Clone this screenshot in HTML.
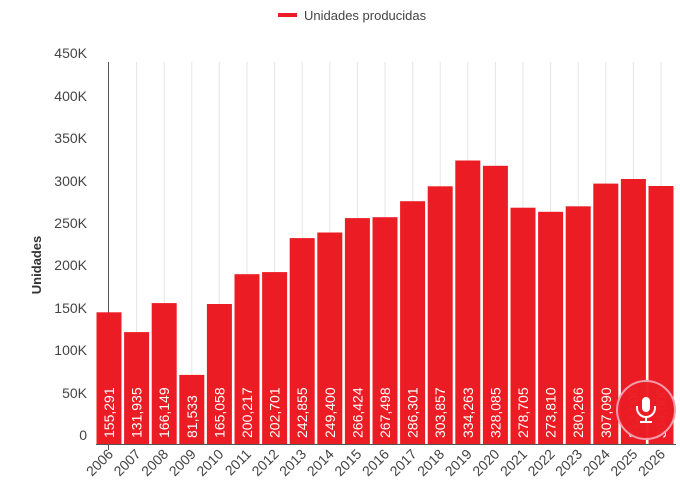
<!DOCTYPE html>
<html><head><meta charset="utf-8"><style>
html,body{margin:0;padding:0;background:#fff;}
svg{display:block;font-family:"Liberation Sans",Roboto,sans-serif;}
.yl{font-size:14px;fill:#444;text-anchor:end;}
.xl{font-size:14px;fill:#444;text-anchor:end;}
.vl{font-size:14px;fill:#fff;}
.g{stroke:#e6e6e6;stroke-width:1;}
.b{fill:#ec1c24;}
</style></head><body>
<svg width="680" height="484" viewBox="0 0 680 484">
<rect x="278" y="13" width="19" height="4" fill="#ec1c24"/>
<text x="304" y="20" font-size="13" fill="#444">Unidades producidas</text>
<text transform="translate(41,265) rotate(-90)" font-size="13" font-weight="bold" fill="#333" text-anchor="middle">Unidades</text>
<g class="yl">
<text x="87" y="440">0</text><text x="87" y="398">50K</text><text x="87" y="355">100K</text><text x="87" y="313">150K</text><text x="87" y="270">200K</text><text x="87" y="228">250K</text><text x="87" y="186">300K</text><text x="87" y="143">350K</text><text x="87" y="101">400K</text><text x="87" y="58">450K</text>
</g>
<g class="g">
<line x1="136.6" y1="62" x2="136.6" y2="444"/><line x1="164.2" y1="62" x2="164.2" y2="444"/><line x1="191.8" y1="62" x2="191.8" y2="444"/><line x1="219.4" y1="62" x2="219.4" y2="444"/><line x1="247" y1="62" x2="247" y2="444"/><line x1="274.6" y1="62" x2="274.6" y2="444"/><line x1="302.2" y1="62" x2="302.2" y2="444"/><line x1="329.8" y1="62" x2="329.8" y2="444"/><line x1="357.4" y1="62" x2="357.4" y2="444"/><line x1="385" y1="62" x2="385" y2="444"/><line x1="412.6" y1="62" x2="412.6" y2="444"/><line x1="440.2" y1="62" x2="440.2" y2="444"/><line x1="467.8" y1="62" x2="467.8" y2="444"/><line x1="495.4" y1="62" x2="495.4" y2="444"/><line x1="523" y1="62" x2="523" y2="444"/><line x1="550.6" y1="62" x2="550.6" y2="444"/><line x1="578.2" y1="62" x2="578.2" y2="444"/><line x1="605.8" y1="62" x2="605.8" y2="444"/><line x1="633.4" y1="62" x2="633.4" y2="444"/><line x1="661" y1="62" x2="661" y2="444"/>
</g>
<line x1="108.5" y1="62" x2="108.5" y2="450" stroke="#555" stroke-width="1"/>
<g class="b">
<rect x="96.5" y="312.3" width="25" height="131.7"/>
<rect x="124.1" y="332.1" width="25" height="111.9"/>
<rect x="151.7" y="303.1" width="25" height="140.9"/>
<rect x="179.3" y="374.9" width="25" height="69.1"/>
<rect x="206.9" y="304" width="25" height="140"/>
<rect x="234.5" y="274.2" width="25" height="169.8"/>
<rect x="262.1" y="272.1" width="25" height="171.9"/>
<rect x="289.7" y="238.1" width="25" height="205.9"/>
<rect x="317.3" y="232.5" width="25" height="211.5"/>
<rect x="344.9" y="218.1" width="25" height="225.9"/>
<rect x="372.5" y="217.2" width="25" height="226.8"/>
<rect x="400.1" y="201.2" width="25" height="242.8"/>
<rect x="427.7" y="186.3" width="25" height="257.7"/>
<rect x="455.3" y="160.5" width="25" height="283.5"/>
<rect x="482.9" y="165.8" width="25" height="278.2"/>
<rect x="510.5" y="207.7" width="25" height="236.3"/>
<rect x="538.1" y="211.8" width="25" height="232.2"/>
<rect x="565.7" y="206.3" width="25" height="237.7"/>
<rect x="593.3" y="183.6" width="25" height="260.4"/>
<rect x="620.9" y="179" width="25" height="265"/>
<rect x="648.5" y="186" width="25" height="258"/>
</g>
<line x1="96" y1="444.5" x2="676" y2="444.5" stroke="#555" stroke-width="1"/>
<g class="vl">
<text transform="translate(114,438) rotate(-90)">155,291</text>
<text transform="translate(141.6,438) rotate(-90)">131,935</text>
<text transform="translate(169.2,438) rotate(-90)">166,149</text>
<text transform="translate(196.8,438) rotate(-90)">81,533</text>
<text transform="translate(224.4,438) rotate(-90)">165,058</text>
<text transform="translate(252,438) rotate(-90)">200,217</text>
<text transform="translate(279.6,438) rotate(-90)">202,701</text>
<text transform="translate(307.2,438) rotate(-90)">242,855</text>
<text transform="translate(334.8,438) rotate(-90)">249,400</text>
<text transform="translate(362.4,438) rotate(-90)">266,424</text>
<text transform="translate(390,438) rotate(-90)">267,498</text>
<text transform="translate(417.6,438) rotate(-90)">286,301</text>
<text transform="translate(445.2,438) rotate(-90)">303,857</text>
<text transform="translate(472.8,438) rotate(-90)">334,263</text>
<text transform="translate(500.4,438) rotate(-90)">328,085</text>
<text transform="translate(528,438) rotate(-90)">278,705</text>
<text transform="translate(555.6,438) rotate(-90)">273,810</text>
<text transform="translate(583.2,438) rotate(-90)">280,266</text>
<text transform="translate(610.8,438) rotate(-90)">307,090</text>
<text transform="translate(638.4,438) rotate(-90)">312,000</text>
<text transform="translate(666,438) rotate(-90)">304,000</text>
</g>
<g class="xl">
<text transform="translate(114,455) rotate(-45)">2006</text>
<text transform="translate(141.6,455) rotate(-45)">2007</text>
<text transform="translate(169.2,455) rotate(-45)">2008</text>
<text transform="translate(196.8,455) rotate(-45)">2009</text>
<text transform="translate(224.4,455) rotate(-45)">2010</text>
<text transform="translate(252,455) rotate(-45)">2011</text>
<text transform="translate(279.6,455) rotate(-45)">2012</text>
<text transform="translate(307.2,455) rotate(-45)">2013</text>
<text transform="translate(334.8,455) rotate(-45)">2014</text>
<text transform="translate(362.4,455) rotate(-45)">2015</text>
<text transform="translate(390,455) rotate(-45)">2016</text>
<text transform="translate(417.6,455) rotate(-45)">2017</text>
<text transform="translate(445.2,455) rotate(-45)">2018</text>
<text transform="translate(472.8,455) rotate(-45)">2019</text>
<text transform="translate(500.4,455) rotate(-45)">2020</text>
<text transform="translate(528,455) rotate(-45)">2021</text>
<text transform="translate(555.6,455) rotate(-45)">2022</text>
<text transform="translate(583.2,455) rotate(-45)">2023</text>
<text transform="translate(610.8,455) rotate(-45)">2024</text>
<text transform="translate(638.4,455) rotate(-45)">2025</text>
<text transform="translate(666,455) rotate(-45)">2026</text>
</g>
<circle cx="646" cy="410" r="29" fill="#ec1c24" stroke="#f3a0b0" stroke-width="2" opacity="0.97"/>
<g fill="#fff">
<rect x="642" y="397" width="8" height="15" rx="4"/>
<path d="M637 406 v2 a9 9 0 0 0 18 0 v-2" fill="none" stroke="#fff" stroke-width="2"/>
<rect x="645" y="417" width="2" height="5"/>
<rect x="640" y="421" width="12" height="2"/>
</g>
</svg>
</body></html>
